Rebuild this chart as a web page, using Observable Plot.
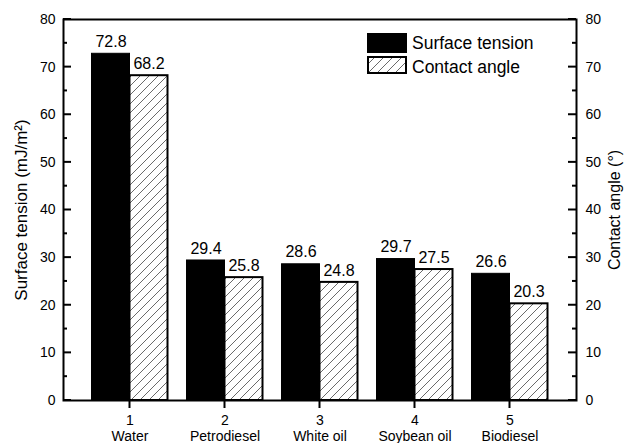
<!DOCTYPE html>
<html><head><meta charset="utf-8">
<script src="https://cdn.jsdelivr.net/npm/d3@7"></script>
<script src="https://cdn.jsdelivr.net/npm/@observablehq/plot@0.6"></script>
<style>
body{margin:0;background:#fff}
#chart svg{font-family:"Liberation Sans",Arial,sans-serif}
</style>
</head><body><div id="chart"></div>
<script>
const categories = ["Water", "Petrodiesel", "White oil", "Soybean oil", "Biodiesel"];
const positions = [1, 2, 3, 4, 5];
const surfaceTension = [72.8, 29.4, 28.6, 29.7, 26.6];
const contactAngle = [68.2, 25.8, 24.8, 27.5, 20.3];
const yTicksMajor = [0, 10, 20, 30, 40, 50, 60, 70, 80];
const yTicksMinor = [5, 15, 25, 35, 45, 55, 65, 75];
const seriesNames = ["Surface tension", "Contact angle"];
const leftTitle = "Surface tension (mJ/m²)";
const rightTitle = "Contact angle (°)";

const W = 0.4;
const stRows = positions.map((p, i) => ({pos: p, value: surfaceTension[i]}));
const caRows = positions.map((p, i) => ({pos: p, value: contactAngle[i]}));
const font = '"Liberation Sans", Arial, sans-serif';

const width = 627, height = 443;
const mL = 63, mR = 51, mT = 19, mB = 43;
const majorLen = 8, minorLen = 4, bottomLen = 8;

const svg = Plot.plot({
  width, height,
  marginLeft: mL, marginRight: mR, marginTop: mT, marginBottom: mB,
  style: {fontFamily: font, fontSize: "14px", background: "white", color: "black"},
  x: {domain: [0.3, 5.7]},
  y: {domain: [0, 80]},
  marks: [
    Plot.rectY(stRows, {x1: d => d.pos - W, x2: d => d.pos, y: "value", fill: "black", stroke: "black", strokeWidth: 1}),
    Plot.rectY(caRows, {x1: d => d.pos, x2: d => d.pos + W, y: "value", fill: "url(#hatch)", stroke: "black", strokeWidth: 2}),
    Plot.text(stRows, {x: d => d.pos - W / 2, y: "value", text: d => d.value.toFixed(1), dy: -12, fontSize: 16}),
    Plot.text(caRows, {x: d => d.pos + W / 2, y: "value", text: d => d.value.toFixed(1), dy: -12, fontSize: 16}),
    Plot.axisY({anchor: "left", ticks: yTicksMajor, tickSize: 0, tickPadding: 8, label: null, fontSize: 14}),
    Plot.axisY({anchor: "right", ticks: yTicksMajor, tickSize: 0, tickPadding: 9, label: null, fontSize: 14}),
    Plot.axisX({ticks: positions, tickSize: 0, tickPadding: 13, label: null, fontSize: 14, lineHeight: 1.15,
      tickFormat: d => `${d}\n${categories[positions.indexOf(d)]}`}),
    Plot.frame({stroke: "black", strokeWidth: 2}),
    Plot.text([leftTitle], {frameAnchor: "left", textAnchor: "middle", rotate: -90, dx: -42, fontSize: 17, text: d => d}),
    Plot.text([rightTitle], {frameAnchor: "right", textAnchor: "middle", rotate: -90, dx: 38, fontSize: 16, text: d => d})
  ]
});

const s = d3.select(svg);
const defs = s.insert("defs", ":first-child");
const pat = defs.append("pattern").attr("id", "hatch").attr("patternUnits", "userSpaceOnUse")
  .attr("width", 9).attr("height", 9);
pat.append("rect").attr("width", 9).attr("height", 9).attr("fill", "white");
pat.append("path").attr("d", "M0,9 L9,0 M-2,2 L2,-2 M7,11 L11,7")
  .attr("stroke", "#444").attr("stroke-width", 0.8).attr("fill", "none");

// tick marks placed through the plot's own scales
const ys = svg.scale("y"), xs = svg.scale("x");
const xL = mL, xR = width - mR, yB = height - mB;
const tg = s.append("g").attr("stroke", "black").attr("stroke-width", 2).attr("fill", "none");
const addY = (vals, len) => {
  vals.forEach(v => {
    const y = ys.apply(v);
    tg.append("line").attr("x1", xL).attr("x2", xL + len).attr("y1", y).attr("y2", y);
    tg.append("line").attr("x1", xR).attr("x2", xR - len).attr("y1", y).attr("y2", y);
  });
};
addY(yTicksMajor, majorLen);
addY(yTicksMinor, minorLen);
positions.forEach(p => {
  const x = xs.apply(p);
  tg.append("line").attr("x1", x).attr("x2", x).attr("y1", yB).attr("y2", yB + bottomLen);
});

// legend
const lg = s.append("g").attr("font-family", font).attr("font-size", 17.5).attr("text-anchor", "start");
lg.append("rect").attr("x", 367).attr("y", 33).attr("width", 40).attr("height", 20).attr("fill", "black");
lg.append("rect").attr("x", 368).attr("y", 57).attr("width", 38).attr("height", 16)
  .attr("fill", "url(#hatch)").attr("stroke", "black").attr("stroke-width", 2);
lg.append("text").attr("x", 412).attr("y", 48.5).text(seriesNames[0]);
lg.append("text").attr("x", 412).attr("y", 73).text(seriesNames[1]);

document.getElementById("chart").append(svg);
</script>
</body></html>
